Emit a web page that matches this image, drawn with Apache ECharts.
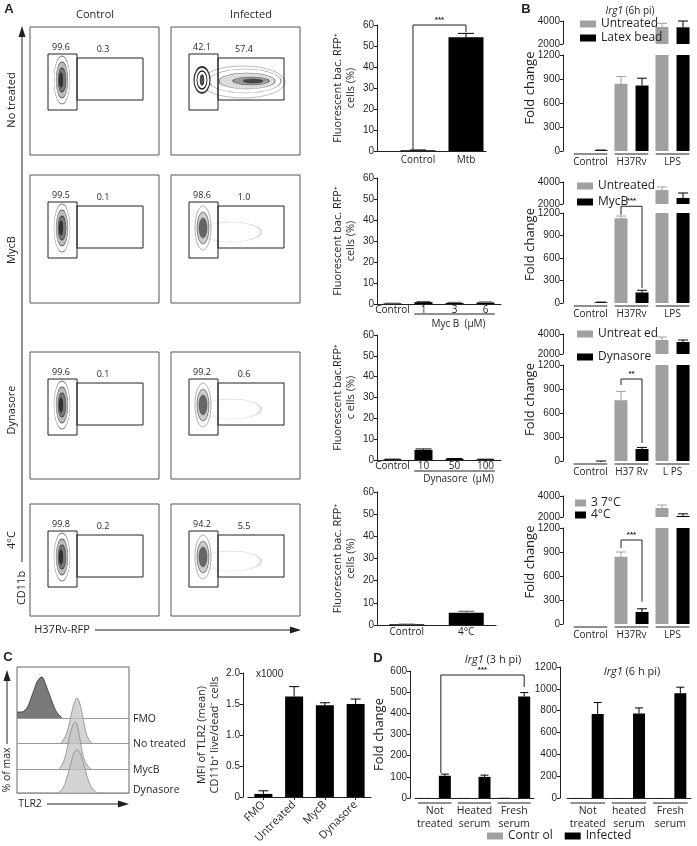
<!DOCTYPE html>
<html><head><meta charset="utf-8">
<script src="https://cdn.jsdelivr.net/npm/echarts@6/dist/echarts.min.js"></script>
<style>html,body{margin:0;padding:0;background:#fff}#c{width:697px;height:846px}</style>
</head><body><div id="c"></div>
<script>
// ---------------- DATA ----------------
// Panel A bar charts
const aNoTreatCats = ['Control', 'Mtb'];
const aNoTreatPos = [1, 2];
const aNoTreatVals = [0.4, 54.2];
const aNoTreatErr = [0.5, 56.0];
const aMycCats = ['Control', '1', '3', '6'];
const aMycVals = [0.3, 0.9, 0.5, 0.7];
const aMycErr = [0.4, 1.2, 0.8, 1.0];
const aDynCats = ['Control', '10', '50', '100'];
const aDynVals = [0.3, 4.8, 0.5, 0.3];
const aDynErr = [0.4, 5.3, 0.7, 0.4];
const aColdCats = ['Control', '4°C'];
const aColdVals = [0.3, 5.5];
const aColdErr = [0.4, 6.2];
const aYTicks = [0, 10, 20, 30, 40, 50, 60];
// Flow gate percentages [control left, control right, infected left, infected right]
const flowGates = [['99.6', '0.3', '42.1', '57.4'], ['99.5', '0.1', '98.6', '1.0'], ['99.6', '0.1', '99.2', '0.6'], ['99.8', '0.2', '94.2', '5.5']];
const flowRows = ['No treated', 'MycB', 'Dynasore', '4°C'];

// Panel B (Irg1 fold change, broken axis)
const bCats = ['Control', 'H37Rv', 'LPS'];
const bCats3 = ['Control', 'H37 Rv', 'L PS'];
const bLowTicks = [0, 300, 600, 900, 1200];
const bHighTicks = [2000, 4000];
const b1Untreated = [0, 840, 3480], b1UntreatedErr = [0, 930, 3800];
const b1Latex = [10, 820, 3450], b1LatexErr = [12, 910, 4000];
const b2Untreated = [0, 1130, 3270], b2UntreatedErr = [0, 1160, 3550];
const b2MycB = [10, 140, 2550], b2MycBErr = [12, 170, 3000];
const b3Untreated = [0, 760, 3400], b3UntreatedErr = [0, 870, 3700];
const b3Dynasore = [-12, 150, 3200], b3DynasoreErr = [0, 170, 3400];
const b4Warm = [0, 840, 2860], b4WarmErr = [0, 900, 3140];
const b4Cold = [0, 150, 2100], b4ColdErr = [0, 190, 2300];

// Panel C
const cCats = ['FMO', 'Untreated', 'MycB', 'Dynasore'];
const cVals = [0.05, 1.62, 1.48, 1.50];
const cErr = [0.10, 1.78, 1.52, 1.58];
const cYTicks = [0, 0.5, 1.0, 1.5, 2.0];
const histLabels = ['FMO', 'No treated', 'MycB', 'Dynasore'];
const histFmoX = [0, 3, 7, 11, 14, 17, 20, 23, 25, 27, 30, 33, 36, 39, 42, 45];
const histFmoY = [6, 6, 7, 12, 20, 28, 36, 40, 41, 38, 30, 22, 14, 7, 3, 0];
const histNtX = [44, 48, 52, 55, 58, 60, 62, 65, 68, 71, 75];
const histNtY = [0, 6, 18, 32, 42, 45, 42, 30, 15, 5, 0];
const histMycX = [42, 46, 50, 53, 56, 58, 60, 63, 66, 70, 74];
const histMycY = [0, 6, 20, 35, 44, 47, 44, 30, 14, 4, 0];
const histDynX = [41, 46, 50, 54, 57, 60, 63, 67, 71, 75, 80];
const histDynY = [0, 5, 16, 30, 40, 43, 40, 28, 14, 5, 0];

// Panel D
const d3hCats = ['Not\ntreated', 'Heated\nserum', 'Fresh\nserum'];
const d3hControl = [1, 1, 3];
const d3hInfected = [105, 100, 480];
const d3hInfErr = [113, 108, 498];
const d3hTicks = [0, 100, 200, 300, 400, 500, 600];
const d6hCats = ['Not\ntreated', 'heated\nserum', 'Fresh\nserum'];
const d6hControl = [2, 1, 1];
const d6hInfected = [770, 775, 960];
const d6hInfErr = [875, 825, 1015];
const d6hTicks = [0, 200, 400, 600, 800, 1000, 1200];

// ---------------- HELPERS ----------------
const INK = '#231f20', GRAY = '#a0a0a0';
const NUMF = '"Liberation Sans", Arial, sans-serif';
const LABF = '"Open Sans", sans-serif';
const grid = [], xAxis = [], yAxis = [], series = [], graphic = [], legend = [];

function merge(a, b) {
  const r = Object.assign({}, a);
  for (const k in b) {
    const v = b[k];
    if (v && typeof v === 'object' && !Array.isArray(v) && r[k] && typeof r[k] === 'object' && !Array.isArray(r[k])) r[k] = merge(r[k], v);
    else r[k] = v;
  }
  return r;
}
function cart(g, xo, yo) {
  grid.push(Object.assign({ show: false }, g));
  const i = grid.length - 1;
  xAxis.push(merge({ gridIndex: i }, xo));
  yAxis.push(merge({ gridIndex: i }, yo));
  return i;
}
function yVal(ticks, o) {
  return merge({
    type: 'value', min: ticks[0], max: ticks[ticks.length - 1], interval: ticks[1] - ticks[0],
    axisLine: { show: true, lineStyle: { color: INK, width: 1 } },
    axisTick: { show: true, length: 3, lineStyle: { color: INK } },
    axisLabel: { color: INK, fontFamily: NUMF, fontSize: 10, margin: 3, formatter: v => String(v) },
    splitLine: { show: false },
    nameTextStyle: { color: INK, fontFamily: LABF, fontSize: 11, lineHeight: 13 }
  }, o || {});
}
function xCat(cats, o) {
  return merge({
    type: 'category', data: cats,
    axisLine: { show: true, lineStyle: { color: INK, width: 1 } },
    axisTick: { show: false },
    axisLabel: { color: INK, fontFamily: LABF, fontSize: 10, margin: 2, interval: 0 },
    splitLine: { show: false }
  }, o || {});
}
function bars(gi, name, data, color, w, gap, extra) {
  return merge({ type: 'bar', name: name, xAxisIndex: gi, yAxisIndex: gi, data: data, barWidth: w, barGap: gap,
    itemStyle: { color: color }, silent: true, clip: true }, extra || {});
}
function errBars(gi, xs, vals, errs, off, color, cap, lo, hi) {
  return {
    type: 'custom', xAxisIndex: gi, yAxisIndex: gi, silent: true, z: 3, clip: false, encode: { x: 0, y: 1 },
    data: vals.map((v, i) => [xs[i], v, errs[i]]),
    renderItem: (p, api) => {
      const v = api.value(1), e = api.value(2);
      if (!(e > v) || v < lo || e > hi) return null;
      const a = api.coord([api.value(0), v]), b = api.coord([api.value(0), e]);
      const x = a[0] + off;
      return { type: 'group', children: [
        { type: 'line', shape: { x1: x, y1: a[1], x2: x, y2: b[1] }, style: { stroke: color, lineWidth: 1 } },
        { type: 'line', shape: { x1: x - cap, y1: b[1], x2: x + cap, y2: b[1] }, style: { stroke: color, lineWidth: 1 } }] };
    }
  };
}
function segAxis(gi, cats, frac, dy) {
  return {
    type: 'custom', xAxisIndex: gi, yAxisIndex: gi, silent: true, clip: false, z: 3, encode: { x: 0, y: 1 },
    data: cats.map((c, i) => [i, 0]),
    renderItem: (p, api) => {
      const c = api.coord([api.value(0), 0]); const bw = api.size([1, 0])[0];
      return { type: 'line', shape: { x1: c[0] - bw * frac, y1: c[1] + dy, x2: c[0] + bw * frac, y2: c[1] + dy }, style: { stroke: INK, lineWidth: 1 } };
    }
  };
}
function groupLabel(gi, i0, i1, text, dy, ty, frac) {
  return {
    type: 'custom', xAxisIndex: gi, yAxisIndex: gi, silent: true, clip: false, z: 3, encode: { x: 0, y: 1 },
    data: [[i0, 0, i1]],
    renderItem: (p, api) => {
      const a = api.coord([api.value(0), 0]), b = api.coord([api.value(2), 0]); const bw = api.size([1, 0])[0];
      const x1 = a[0] - bw * frac, x2 = b[0] + bw * frac;
      return { type: 'group', children: [
        { type: 'line', shape: { x1: x1, y1: a[1] + dy, x2: x2, y2: a[1] + dy }, style: { stroke: INK, lineWidth: 1 } },
        { type: 'text', x: (x1 + x2) / 2 + 4, y: a[1] + ty, style: { text: text, fill: INK, fontFamily: LABF, fontSize: 10, align: 'center', verticalAlign: 'middle' } }] };
    }
  };
}
function bracket(gi, xa, offa, ya, xb, offb, yb, top, stars) {
  return {
    type: 'custom', xAxisIndex: gi, yAxisIndex: gi, silent: true, clip: false, z: 4, encode: { x: 0, y: 1 },
    data: [[xa, ya, xb, yb, top]],
    renderItem: (p, api) => {
      const A = api.coord([api.value(0), api.value(1)]), B = api.coord([api.value(2), api.value(3)]), T = api.coord([api.value(0), api.value(4)]);
      const x1 = A[0] + offa, x2 = B[0] + offb;
      return { type: 'group', children: [
        { type: 'polyline', shape: { points: [[x1, A[1]], [x1, T[1]], [x2, T[1]], [x2, B[1]]] }, style: { stroke: INK, fill: null, lineWidth: 1 } },
        { type: 'text', x: (x1 + x2) / 2, y: T[1] - 1, style: { text: stars, fill: INK, fontFamily: NUMF, fontWeight: 'bold', fontSize: 8, align: 'center', verticalAlign: 'bottom' } }] };
    }
  };
}
function txt(s, x, y, o) {
  return { type: 'text', x: x, y: y, silent: true, style: Object.assign({ text: s, fill: INK, fontFamily: LABF, fontSize: 11, align: 'center', verticalAlign: 'middle' }, o || {}) };
}
function vtxt(s, x, y, o) { const t = txt(s, x, y, o); t.rotation = Math.PI / 2; return t; }
function ln(x1, y1, x2, y2, c, w) { return { type: 'line', silent: true, shape: { x1, y1, x2, y2 }, style: { stroke: c || INK, lineWidth: w || 1 } }; }
function ell(cx, cy, rx, ry, fill, stroke, lw) {
  return { type: 'circle', silent: true, x: cx, y: cy, scaleX: rx / 10, scaleY: ry / 10, shape: { cx: 0, cy: 0, r: 10 },
    style: { fill: fill || 'none', stroke: stroke || 'none', lineWidth: lw || 0.6, strokeNoScale: true } };
}
function oneLegend(name, left, cy, w, h) {
  legend.push({ data: [name], left: left, top: cy - 6, orient: 'vertical', padding: 0, itemWidth: w, itemHeight: h, itemGap: 0, icon: 'rect',
    selectedMode: false, textStyle: { color: INK, fontFamily: LABF, fontSize: 12, padding: [0, 0, 0, 0] } });
}

// ---------------- PANEL A: flow plots (illustration) ----------------
graphic.push(txt('A', 9, 9, { fontFamily: NUMF, fontWeight: 'bold', fontSize: 13 }));
graphic.push(txt('Control', 95, 15, { fontSize: 11 }));
graphic.push(txt('Infected', 251, 15, { fontSize: 11 }));
const rowTop = [27, 175, 352, 504], rowH = [128, 128, 127, 112];
const rowLabY = [100, 250, 410, 540];
function flowBox(x0, y0, h, l1, l2, kind) {
  graphic.push({ type: 'rect', silent: true, shape: { x: x0, y: y0, width: 129, height: h }, style: { fill: 'none', stroke: '#555', lineWidth: 1 } });
  const cy = y0 + 53;
  if (kind === 'ctrl') {
    graphic.push(ell(x0 + 32, cy, 8, 24, 'none', '#777', 0.6));
    graphic.push(ell(x0 + 32, cy, 6, 18, '#bbb', '#555', 0.6));
    graphic.push(ell(x0 + 32, cy, 4, 12, '#777', '#333', 0.6));
    graphic.push(ell(x0 + 31, cy, 2, 7, '#333', '#222', 0.6));
  } else if (kind === 'inf') {
    graphic.push(ell(x0 + 72, cy + 2, 42, 16, 'none', '#999', 0.6));
    graphic.push(ell(x0 + 74, cy + 1, 36, 12, 'none', '#888', 0.6));
    graphic.push(ell(x0 + 76, cy + 1, 28, 8, '#ddd', '#777', 0.6));
    graphic.push(ell(x0 + 80, cy + 1, 18, 4, '#999', '#555', 0.6));
    graphic.push(ell(x0 + 82, cy + 1, 10, 2, '#444', '#333', 0.6));
    graphic.push(ell(x0 + 31, cy, 8, 13, '#fff', '#333', 1.5));
    graphic.push(ell(x0 + 31, cy, 5, 9, 'none', '#222', 1.2));
    graphic.push(ell(x0 + 31, cy, 2, 5, '#555', '#222', 0.8));
  } else {
    graphic.push(ell(x0 + 60, cy + 4, 30, 10, 'none', '#ccc', 0.5));
    graphic.push(ell(x0 + 32, cy, 8, 22, 'none', '#888', 0.6));
    graphic.push(ell(x0 + 32, cy, 6, 16, '#ccc', '#555', 0.6));
    graphic.push(ell(x0 + 32, cy, 4, 10, '#666', '#333', 0.6));
  }
  graphic.push({ type: 'rect', silent: true, shape: { x: x0 + 18, y: y0 + 27, width: 29, height: 56 }, style: { fill: 'none', stroke: INK, lineWidth: 1 } });
  graphic.push({ type: 'rect', silent: true, shape: { x: x0 + 47, y: y0 + 31, width: 66, height: 42 }, style: { fill: 'none', stroke: INK, lineWidth: 1 } });
  graphic.push(txt(l1, x0 + 31, y0 + 20, { fontSize: 9 }));
  graphic.push(txt(l2, x0 + 73, y0 + 22, { fontSize: 9 }));
}
rowTop.forEach((t, r) => {
  flowBox(30, t, rowH[r], flowGates[r][0], flowGates[r][1], 'ctrl');
  flowBox(171, t, rowH[r], flowGates[r][2], flowGates[r][3], r === 0 ? 'inf' : 'inf2');
  graphic.push(vtxt(flowRows[r], 12, rowLabY[r], { fontSize: 11 }));
});
graphic.push(ln(22, 34, 22, 562));
graphic.push({ type: 'polygon', silent: true, shape: { points: [[22, 26], [18.5, 37], [25.5, 37]] }, style: { fill: INK } });
graphic.push(vtxt('CD11b', 22, 588, { fontSize: 11 }));
graphic.push(txt('H37Rv-RFP', 62, 630, { fontSize: 11 }));
graphic.push(ln(95, 630, 292, 630));
graphic.push({ type: 'polygon', silent: true, shape: { points: [[301, 630], [290, 626.5], [290, 633.5]] }, style: { fill: INK } });

// ---------------- PANEL A: bar charts ----------------
const aName = (l1, l2) => ({ name: l1 + '\n' + l2, nameLocation: 'middle', nameRotate: 90, nameGap: 20 });
let g;
g = cart({ left: 377, top: 25, width: 109, height: 126 },
  { type: 'value', min: 0.146, max: 2.417, axisLine: { show: true, onZero: false, lineStyle: { color: INK } }, axisTick: { show: false }, splitLine: { show: false },
    axisLabel: { customValues: aNoTreatPos, formatter: v => aNoTreatCats[Math.round(v) - 1], color: INK, fontFamily: LABF, fontSize: 10, margin: 4 } },
  yVal(aYTicks, aName('Fluorescent bac. RFP⁺', 'cells (%)')));
series.push(bars(g, 'aNT', aNoTreatPos.map((x, i) => [x, aNoTreatVals[i]]), '#000', 35, '0%'));
series.push(errBars(g, aNoTreatPos, aNoTreatVals, aNoTreatErr, 0, '#000', 8, -1e9, 1e9));
series.push(bracket(g, 1, -5, 0.6, 2, 0, 56.5, 60, '***'));

g = cart({ left: 377, top: 178, width: 124, height: 126 }, xCat(aMycCats, { axisLabel: { margin: 1 } }), yVal(aYTicks, aName('Fluorescent bac. RFP⁺', 'cells (%)')));
series.push(bars(g, 'aMyc', aMycVals, '#000', 18, '0%'));
series.push(errBars(g, aMycCats.map((c, i) => i), aMycVals, aMycErr, 0, '#555', 7, -1e9, 1e9));
series.push(groupLabel(g, 1, 3, 'Myc B  (μM)', 10, 20, 0.3));

g = cart({ left: 377, top: 335, width: 124, height: 125 }, xCat(aDynCats, { axisLabel: { margin: 1 } }), yVal(aYTicks, aName('Fluorescent bac.RFP⁺', 'c ells (%)')));
series.push(bars(g, 'aDyn', aDynVals, '#000', 18, '0%'));
series.push(errBars(g, aDynCats.map((c, i) => i), aDynVals, aDynErr, 0, '#000', 8, -1e9, 1e9));
series.push(groupLabel(g, 1, 3, 'Dynasore  (μM)', 11, 19, 0.3));

g = cart({ left: 377, top: 492, width: 119, height: 133 }, xCat(aColdCats, { axisLabel: { margin: 2 } }), yVal(aYTicks, aName('Fluorescent bac. RFP⁺', 'cells (%)')));
series.push(bars(g, 'aCold', aColdVals, '#000', 35, '0%'));
series.push(errBars(g, aColdCats.map((c, i) => i), aColdVals, aColdErr, 0, '#555', 8, -1e9, 1e9));

// ---------------- PANEL B ----------------
graphic.push(txt('B', 526, 9, { fontFamily: NUMF, fontWeight: 'bold', fontSize: 13 }));
graphic.push({ type: 'text', x: 630, y: 11, silent: true, style: { text: '{i|Irg1} (6h pi)', fill: INK, fontFamily: LABF, fontSize: 10, align: 'center', verticalAlign: 'middle',
  rich: { i: { fontStyle: 'italic', fontFamily: LABF, fontSize: 10, fill: INK } } } });
const bIdx = bCats.map((c, i) => i);
function bChart(upTop, upH, loTop, loH, cats, n1, v1, e1, n2, v2, e2) {
  const gu = cart({ left: 570, top: upTop, width: 123, height: upH }, xCat(cats, { show: false }),
    yVal(bHighTicks, { offset: 7 }));
  const gl = cart({ left: 570, top: loTop, width: 123, height: loH }, xCat(cats, { axisLine: { show: false }, axisLabel: { margin: 6 } }),
    yVal(bLowTicks, { offset: 7 }));
  const hi = v => v.map(x => x > bHighTicks[0] ? x : '-');
  series.push(bars(gu, n1, hi(v1), GRAY, 13, '62%'));
  series.push(bars(gu, n2, hi(v2), '#000', 13, '62%'));
  series.push(bars(gl, n1, v1, GRAY, 13, '62%'));
  series.push(bars(gl, n2, v2, '#000', 13, '62%'));
  series.push(errBars(gu, bIdx, v1, e1, -10.5, GRAY, 5, bHighTicks[0], 1e9));
  series.push(errBars(gu, bIdx, v2, e2, 10.5, '#000', 5, bHighTicks[0], 1e9));
  series.push(errBars(gl, bIdx, v1, e1, -10.5, GRAY, 5, -1e9, bLowTicks[bLowTicks.length - 1]));
  series.push(errBars(gl, bIdx, v2, e2, 10.5, '#000', 5, -1e9, bLowTicks[bLowTicks.length - 1]));
  series.push(segAxis(gl, cats, 0.41, 3));
  graphic.push(vtxt('Fold change', 530, (upTop + loTop + loH) / 2 + 2, { fontSize: 13 }));
  return gl;
}
let gl;
bChart(21, 23, 55, 96, bCats, 'Untreated', b1Untreated, b1UntreatedErr, 'Latex bead', b1Latex, b1LatexErr);
oneLegend('Untreated', 580, 24, 16, 7); oneLegend('Latex bead', 580, 38, 16, 7);

gl = bChart(182, 22, 213, 90, bCats, 'Untreated', b2Untreated, b2UntreatedErr, 'MycB', b2MycB, b2MycBErr);
series.push(bracket(gl, 1, -10.5, 1175, 1, 10.5, 200, 1290, '***'));
oneLegend('Untreated', 577, 186, 16, 7); oneLegend('MycB', 577, 202, 16, 7);

gl = bChart(334, 20, 365, 96, bCats3, 'Untreat ed', b3Untreated, b3UntreatedErr, 'Dynasore', b3Dynasore, b3DynasoreErr);
series.push(bracket(gl, 1, -10.5, 950, 1, 10.5, 225, 1025, '**'));
oneLegend('Untreat ed', 577, 334, 16, 7); oneLegend('Dynasore', 577, 357, 16, 7);

gl = bChart(496, 21, 528, 96, bCats, '3 7°C', b4Warm, b4WarmErr, '4°C', b4Cold, b4ColdErr);
series.push(bracket(gl, 1, -10.5, 950, 1, 10.5, 280, 1050, '***'));
oneLegend('3 7°C', 575, 503, 11, 7); oneLegend('4°C', 575, 515, 11, 7);

// ---------------- PANEL C ----------------
graphic.push(txt('C', 8, 657, { fontFamily: NUMF, fontWeight: 'bold', fontSize: 13 }));
graphic.push({ type: 'rect', silent: true, shape: { x: 17, y: 667, width: 112, height: 126 }, style: { fill: 'none', stroke: '#666', lineWidth: 1 } });
const histBase = [718, 743, 769, 793];
const histSets = [[histFmoX, histFmoY, '#7a7a7a', '#333', 1], [histNtX, histNtY, '#c4c4c4', '#8a8a8a', 0.75], [histMycX, histMycY, '#c4c4c4', '#8a8a8a', 0.75], [histDynX, histDynY, '#c4c4c4', '#8a8a8a', 0.75]];
histSets.forEach((h, r) => {
  const gi = cart({ left: 17, top: histBase[r] - 50, width: 112, height: 50 },
    { type: 'value', min: 0, max: 112, axisLine: { show: true, onZero: false, lineStyle: { color: '#999', width: 1 } }, axisTick: { show: false }, axisLabel: { show: false }, splitLine: { show: false } },
    { type: 'value', min: 0, max: 50, show: false, splitLine: { show: false } });
  series.push({ type: 'line', xAxisIndex: gi, yAxisIndex: gi, silent: true, data: h[0].map((x, i) => [x, h[1][i]]), smooth: 0.4, symbol: 'none',
    lineStyle: { color: h[3], width: 0.8 }, areaStyle: { color: h[2], opacity: h[4] }, z: 2 + r });
  graphic.push(txt(histLabels[r], 133, histBase[r] + (r === 3 ? -3 : 1), { fontSize: 10.5, align: 'left' }));
});
graphic.push(ln(7, 680, 7, 744));
graphic.push({ type: 'polygon', silent: true, shape: { points: [[7, 670], [3.5, 681], [10.5, 681]] }, style: { fill: INK } });
graphic.push(vtxt('% of max', 7, 770, { fontSize: 10.5 }));
graphic.push(txt('TLR2', 30, 804, { fontSize: 10.5 }));
graphic.push(ln(47, 804, 120, 804));
graphic.push({ type: 'polygon', silent: true, shape: { points: [[129, 804], [118, 800.5], [118, 807.5]] }, style: { fill: INK } });

g = cart({ left: 248, top: 673, width: 123, height: 124 },
  xCat(cCats, { axisTick: { show: true, length: 3, alignWithLabel: true, lineStyle: { color: INK } }, axisLabel: { rotate: 45, fontSize: 11, margin: 6 } }),
  yVal(cYTicks, { offset: 5, axisLabel: { formatter: v => v === 0 ? '0' : v.toFixed(1) }, name: 'MFI of TLR2 (mean)\nCD11b⁺ live/dead⁻ cells', nameLocation: 'middle', nameRotate: 90, nameGap: 22 }));
series.push(bars(g, 'cMFI', cVals, '#000', 18, '0%'));
series.push(errBars(g, cCats.map((c, i) => i), cVals, cErr, 0, '#000', 5, -1e9, 1e9));
graphic.push(txt('x1000', 256, 674, { fontFamily: NUMF, fontSize: 10, align: 'left' }));

// ---------------- PANEL D ----------------
graphic.push(txt('D', 378, 658, { fontFamily: NUMF, fontWeight: 'bold', fontSize: 13 }));
graphic.push({ type: 'text', x: 493, y: 660, silent: true, style: { text: '{i|Irg1} (3 h pi)', fill: INK, fontFamily: LABF, fontSize: 11, align: 'center', verticalAlign: 'middle',
  rich: { i: { fontStyle: 'italic', fontFamily: LABF, fontSize: 11, fill: INK } } } });
graphic.push({ type: 'text', x: 632, y: 672, silent: true, style: { text: '{i|Irg1} (6 h pi)', fill: INK, fontFamily: LABF, fontSize: 11, align: 'center', verticalAlign: 'middle',
  rich: { i: { fontStyle: 'italic', fontFamily: LABF, fontSize: 11, fill: INK } } } });
const dX = { axisLabel: { margin: 7, lineHeight: 13, fontSize: 10.5 } };
g = cart({ left: 415, top: 671, width: 119, height: 127 }, xCat(d3hCats, dX),
  yVal(d3hTicks, { offset: 5, name: 'Fold change', nameLocation: 'middle', nameRotate: 90, nameGap: 24, nameTextStyle: { fontSize: 13 } }));
series.push(bars(g, 'Contr ol', d3hControl, GRAY, 12, '67%'));
series.push(bars(g, 'Infected', d3hInfected, '#000', 12, '67%'));
series.push(errBars(g, [0, 1, 2], d3hInfected, d3hInfErr, 10, '#000', 4, -1e9, 1e9));
series.push(segAxis(g, d3hCats, 0.42, 5));
series.push(bracket(g, 0, 6, 118, 2, 10, 525, 581, '***'));

g = cart({ left: 567, top: 667, width: 124, height: 131 }, xCat(d6hCats, dX), yVal(d6hTicks, { offset: 7 }));
series.push(bars(g, 'Contr ol', d6hControl, GRAY, 12, '67%'));
series.push(bars(g, 'Infected', d6hInfected, '#000', 12, '67%'));
series.push(errBars(g, [0, 1, 2], d6hInfected, d6hInfErr, 10, '#000', 4, -1e9, 1e9));
series.push(segAxis(g, d6hCats, 0.42, 5));

legend.push({ data: ['Contr ol', 'Infected'], left: 487, top: 830, orient: 'horizontal', padding: 0, itemWidth: 16, itemHeight: 7, itemGap: 12, icon: 'rect',
  selectedMode: false, textStyle: { color: INK, fontFamily: LABF, fontSize: 12 } });

// ---------------- RENDER ----------------
const chart = echarts.init(document.getElementById('c'), null, { renderer: 'canvas', width: 697, height: 846 });
chart.setOption({ animation: false, backgroundColor: '#fff', grid, xAxis, yAxis, series, legend, graphic: { elements: graphic } });
</script></body></html>
